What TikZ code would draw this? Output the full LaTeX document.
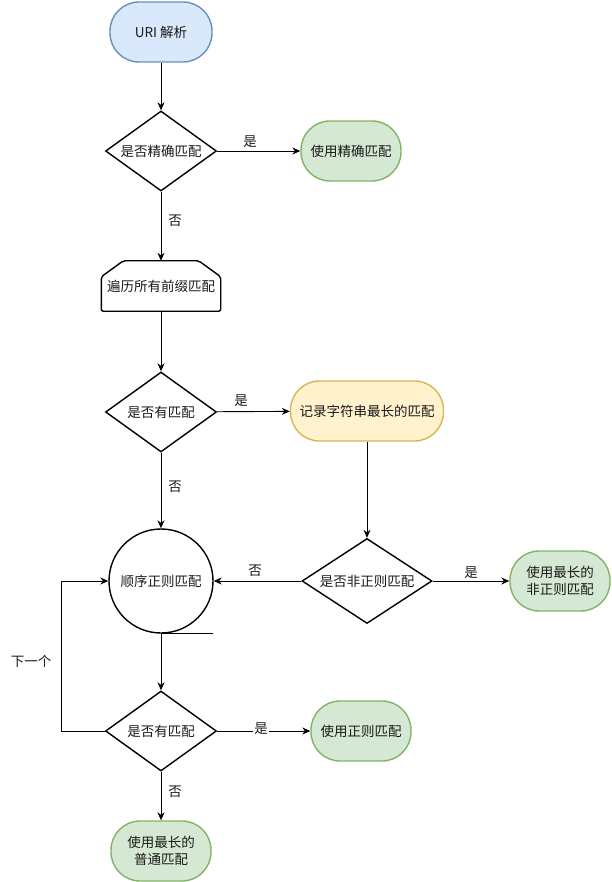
\documentclass[tikz,border=0pt]{standalone}
\usepackage{fontspec}
\setmainfont{Noto Sans CJK SC}
\usetikzlibrary{shapes.geometric,arrows.meta}
\definecolor{bluefill}{HTML}{DAE8FC}
\definecolor{bluedraw}{HTML}{6C8EBF}
\definecolor{greenfill}{HTML}{D5E8D4}
\definecolor{greendraw}{HTML}{82B366}
\definecolor{yellowfill}{HTML}{FFF2CC}
\definecolor{yellowdraw}{HTML}{D6B656}
\definecolor{txt}{HTML}{1A1A1A}
\begin{document}
\begin{tikzpicture}[x=1pt,y=-1pt,
  every node/.style={font=\fontsize{13.5}{17}\selectfont, text=txt},
  term/.style={rectangle, rounded corners=29pt, minimum height=60pt, line width=1.4pt, align=center, inner sep=0pt},
  blueterm/.style={term, draw=bluedraw, fill=bluefill, minimum width=102pt},
  greenterm/.style={term, draw=greendraw, fill=greenfill, minimum width=100pt},
  yellowterm/.style={term, draw=yellowdraw, fill=yellowfill, minimum width=153pt},
  decision/.style={diamond, draw, line width=1.4pt, inner sep=0pt, minimum width=111pt, minimum height=80pt, aspect=1.39},
  arr/.style={-{Stealth[length=8pt,width=7pt]}, line width=0.9pt},
  lbl/.style={inner sep=1pt, fill=white}
]
\useasboundingbox (0,0) rectangle (612,882);

\node[blueterm] (uri) at (161,32) {URI 解析};
\node[decision] (d1) at (161,151) {是否精确匹配};
\node[greenterm] (g1) at (351,151) {使用精确匹配};
\node[rectangle, minimum width=119pt, minimum height=50pt, inner sep=0pt] (loop) at (161,286) {遍历所有前缀匹配};
\draw[line width=1.4pt, rounded corners=2pt]
  ([xshift=22pt]loop.north west) -- ([xshift=-22pt]loop.north east)
  -- ([yshift=-16pt]loop.north east) -- (loop.south east) -- (loop.south west)
  -- ([yshift=-16pt]loop.north west) -- cycle;
\node[decision] (d2) at (161,412) {是否有匹配};
\node[yellowterm] (y1) at (367,411) {记录字符串最长的匹配};
\node[circle, draw, line width=1.4pt, minimum size=104pt, inner sep=0pt] (seq) at (161,581) {顺序正则匹配};
\draw[line width=1.4pt] (seq.south) -- ++(52,0);
\node[decision, minimum width=130pt, minimum height=85pt, aspect=1.53] (d3) at (367,581) {是否非正则匹配};
\node[greenterm] (g2) at (560,581) {使用最长的\\非正则匹配};
\node[decision] (d4) at (161,731) {是否有匹配};
\node[greenterm] (g3) at (361,731) {使用正则匹配};
\node[greenterm] (g4) at (161,851) {使用最长的\\普通匹配};

\draw[arr] (uri) -- (d1);
\draw[arr] (d1) -- (g1);
\node[lbl] (l1) at (250,142) {是};
\draw[arr] (d1) -- (loop);
\node[lbl] (l2) at (175,221) {否};
\draw[arr] (loop) -- (d2);
\draw[arr] (d2) -- (y1);
\node[lbl] (l3) at (241,401) {是};
\draw[arr] (d2) -- (seq);
\node[lbl] (l4) at (175,487) {否};
\draw[arr] (y1) -- (d3);
\draw[arr] (d3) -- (seq);
\node[lbl] (l5) at (255,571) {否};
\draw[arr] (d3) -- (g2);
\node[lbl] (l6) at (471,573) {是};
\draw[arr] (seq.south) -- (d4.north);
\draw[arr] (d4) -- (g3);
\node[lbl] (l7) at (261,729) {是};
\draw[arr] (d4) -- (g4);
\node[lbl] (l8) at (175,792) {否};
\coordinate (lp) at (61,731);
\draw[arr] (d4.west) -- (lp) |- (seq.west);
\node[lbl] (l9) at (31,661) {下一个};
\end{tikzpicture}
\end{document}
